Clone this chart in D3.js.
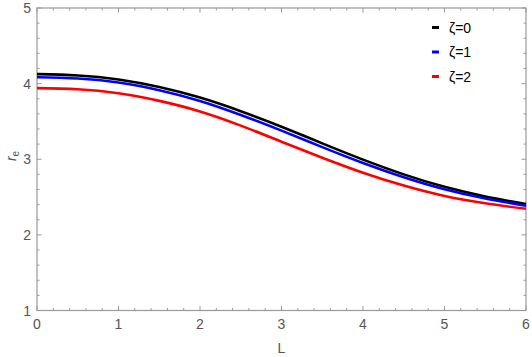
<!DOCTYPE html>
<html lang="en">
<head>
    <meta charset="UTF-8">
    <title>r_e vs L</title>
    <script src="https://d3js.org/d3.v7.min.js"></script>
    <style>
        body {
            margin: 0;
            background: #fff;
            font-family: "Liberation Sans", Arial, sans-serif;
        }
        svg { display: block; }
    </style>
</head>
<body>
    <svg width="532" height="357"></svg>

    <script>
        const Lvals = [0, 0.5, 1, 1.5, 2, 2.5, 3, 3.5, 4, 4.5, 5, 5.5, 6];
        const zeta0 = [4.125, 4.108, 4.055, 3.955, 3.815, 3.635, 3.43, 3.21, 2.995, 2.80, 2.635, 2.508, 2.407];
        const zeta1 = [4.085, 4.068, 4.015, 3.913, 3.77, 3.585, 3.378, 3.16, 2.95, 2.762, 2.603, 2.481, 2.385];
        const zeta2 = [3.94, 3.925, 3.872, 3.772, 3.632, 3.445, 3.232, 3.02, 2.822, 2.652, 2.515, 2.418, 2.345];
        const seriesNames = ["ζ=0", "ζ=1", "ζ=2"];
        const seriesColors = ["#000000", "#0000ff", "#ff0000"];
        const xTicks = [0, 1, 2, 3, 4, 5, 6];
        const yTicks = [1, 2, 3, 4, 5];

        const svg = d3.select("svg");
        const axisColor = "#999";
        const labelColor = "#555";

        const x = d3.scaleLinear().domain([0, 6]).range([37, 526]);
        const y = d3.scaleLinear().domain([1, 5]).range([310.5, 8]);

        const series = [zeta0, zeta1, zeta2].map((vals, i) => ({
            name: seriesNames[i],
            color: seriesColors[i],
            points: Lvals.map((L, j) => [L, vals[j]])
        }));

        // frame
        svg.append("rect")
            .attr("x", x(0)).attr("y", y(5))
            .attr("width", x(6) - x(0)).attr("height", y(1) - y(5))
            .attr("fill", "none")
            .attr("stroke", axisColor)
            .attr("stroke-width", 1.2);

        // ticks (inward, on all four sides)
        const minorX = d3.range(0, 6.001, 0.2);
        const minorY = d3.range(1, 5.001, 0.2);
        const isMajor = v => Math.abs(v - Math.round(v)) < 1e-6;

        const tickG = svg.append("g").attr("stroke", axisColor).attr("stroke-width", 1);
        minorX.forEach(v => {
            const len = isMajor(v) ? 4.5 : 2.5;
            tickG.append("line").attr("x1", x(v)).attr("x2", x(v))
                .attr("y1", y(1)).attr("y2", y(1) - len);
            tickG.append("line").attr("x1", x(v)).attr("x2", x(v))
                .attr("y1", y(5)).attr("y2", y(5) + len);
        });
        minorY.forEach(v => {
            const len = isMajor(v) ? 4.5 : 2.5;
            tickG.append("line").attr("y1", y(v)).attr("y2", y(v))
                .attr("x1", x(0)).attr("x2", x(0) + len);
            tickG.append("line").attr("y1", y(v)).attr("y2", y(v))
                .attr("x1", x(6)).attr("x2", x(6) - len);
        });

        // tick labels
        svg.append("g").selectAll("text")
            .data(xTicks)
            .enter().append("text")
            .attr("x", d => x(d))
            .attr("y", 329)
            .attr("text-anchor", "middle")
            .attr("font-size", "14px")
            .attr("fill", labelColor)
            .text(d => d);

        svg.append("g").selectAll("text")
            .data(yTicks)
            .enter().append("text")
            .attr("x", 31)
            .attr("y", d => y(d) + 5)
            .attr("text-anchor", "end")
            .attr("font-size", "14px")
            .attr("fill", labelColor)
            .text(d => d);

        // axis labels
        svg.append("text")
            .attr("x", (x(0) + x(6)) / 2)
            .attr("y", 353)
            .attr("text-anchor", "middle")
            .attr("font-size", "14px")
            .attr("fill", labelColor)
            .text("L");

        const yl = svg.append("text")
            .attr("transform", "translate(16,156) rotate(-90)")
            .attr("text-anchor", "middle")
            .attr("font-size", "14px")
            .attr("fill", labelColor);
        yl.append("tspan").attr("font-style", "italic").text("r");
        yl.append("tspan").attr("font-size", "10px").attr("dy", 3).text("e");

        // curves
        const line = d3.line()
            .x(d => x(d[0]))
            .y(d => y(d[1]))
            .curve(d3.curveNatural);

        svg.append("g").selectAll("path")
            .data(series)
            .enter().append("path")
            .attr("d", d => line(d.points))
            .attr("fill", "none")
            .attr("stroke", d => d.color)
            .attr("stroke-width", 2.6);

        // legend
        const legend = svg.append("g")
            .selectAll("g")
            .data(series)
            .enter().append("g")
            .attr("transform", (d, i) => `translate(432,${27.5 + i * 24.5})`);

        legend.append("line")
            .attr("x1", 0).attr("x2", 7)
            .attr("y1", 0).attr("y2", 0)
            .attr("stroke", d => d.color)
            .attr("stroke-width", 3);

        legend.append("text")
            .attr("x", 17)
            .attr("y", 5)
            .attr("font-size", "14px")
            .attr("fill", "#000")
            .text(d => d.name);
    </script>
</body>
</html>
